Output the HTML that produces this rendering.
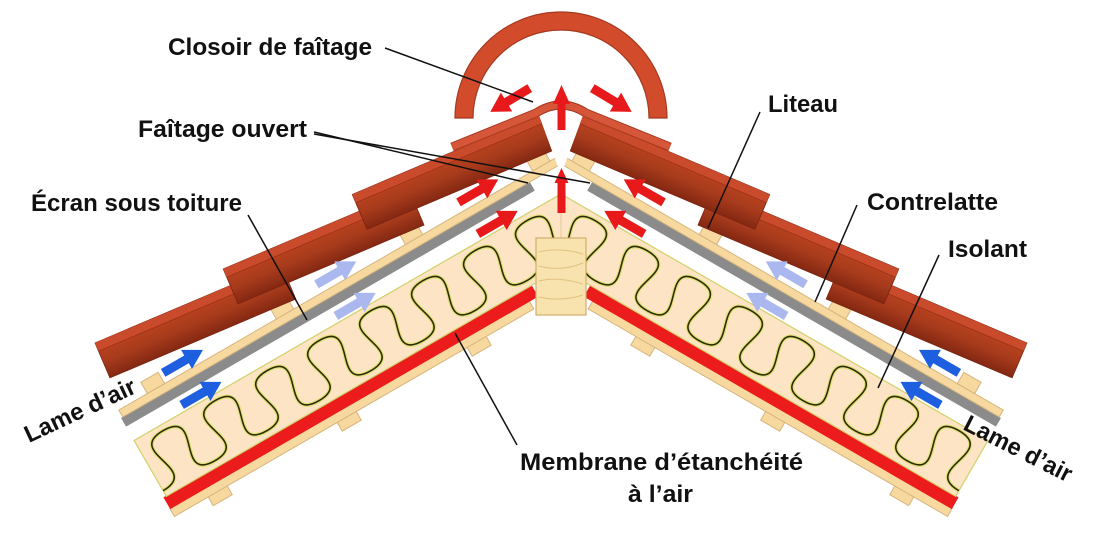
<!DOCTYPE html>
<html><head><meta charset="utf-8"><style>
html,body{margin:0;padding:0;background:#fff;}
svg{display:block;}
text{font-family:"Liberation Sans",Arial,sans-serif;font-weight:bold;fill:#111;}
</style></head><body>
<svg width="1100" height="545" viewBox="0 0 1100 545" xmlns="http://www.w3.org/2000/svg">
<defs>
  <linearGradient id="tb" x1="0" y1="0" x2="0" y2="1">
    <stop offset="0" stop-color="#c0451f"/>
    <stop offset="0.55" stop-color="#a73b1c"/>
    <stop offset="1" stop-color="#842812"/>
  </linearGradient>
  <clipPath id="cv" clipPathUnits="userSpaceOnUse">
    <polygon points="0,0 537,0 537,110 561,175 561,545 0,545"/>
  </clipPath>
  <clipPath id="ci" clipPathUnits="userSpaceOnUse">
    <polygon points="-590,168 -97,168 -134,232.5 -590,232.5"/>
  </clipPath>
  <path id="arr" d="M-23,-4.5 L4,-4.5 L4,-11 L23,0 L4,11 L4,4.5 L-23,4.5Z"/>
  <path id="wave" d="M-620,174 c45,0 -15,52 30,52 c45,0 -15,-52 30,-52 c45,0 -15,52 30,52 c45,0 -15,-52 30,-52 c45,0 -15,52 30,52 c45,0 -15,-52 30,-52 c45,0 -15,52 30,52 c45,0 -15,-52 30,-52 c45,0 -15,52 30,52 c45,0 -15,-52 30,-52 c45,0 -15,52 30,52 c45,0 -15,-52 30,-52 c45,0 -15,52 30,52 c45,0 -15,-52 30,-52 c45,0 -15,52 30,52 c45,0 -15,-52 30,-52 c45,0 -15,52 30,52 c45,0 -15,-52 30,-52 c45,0 -15,52 30,52 c45,0 -15,-52 30,-52 c45,0 -15,52 30,52 c45,0 -15,-52 30,-52"/>
  <g id="half">
    <g clip-path="url(#cv)">
      <g transform="translate(561,0) rotate(-30)">
        <!-- battens under panel -->
        <rect x="-554" y="251" width="22" height="13" fill="#f7d9a0" stroke="#d6b57c" stroke-width="1"/>
        <rect x="-405" y="251" width="22" height="13" fill="#f7d9a0" stroke="#d6b57c" stroke-width="1"/>
        <rect x="-255" y="251" width="22" height="13" fill="#f7d9a0" stroke="#d6b57c" stroke-width="1"/>
        <!-- panel -->
        <rect x="-593" y="245" width="415" height="9" fill="#f7d9a0" stroke="#d6b57c" stroke-width="1"/>
        <!-- red membrane -->
        <rect x="-593" y="232" width="425" height="13.5" fill="#ec1c1c"/>
        <!-- insulation -->
        <polygon points="-590,168 -97,168 -134,232.5 -590,232.5" fill="#fde4c4" stroke="#cfd168" stroke-width="1.2"/>
        <g clip-path="url(#ci)" fill="none">
          <use href="#wave" stroke="#e2e07a" stroke-width="4"/>
          <use href="#wave" stroke="#2c2c06" stroke-width="1.6"/>
        </g>
        <!-- ecran (gray) -->
        <rect x="-590" y="142" width="472" height="10" fill="#8b8b8b"/>
        <!-- contrelatte -->
        <rect x="-588" y="134" width="540" height="8" fill="#f7d9a0" stroke="#d6b57c" stroke-width="1"/>
        <!-- liteaux -->
        <rect x="-555" y="121" width="20" height="13" fill="#f7d9a0" stroke="#d6b57c" stroke-width="1"/>
        <rect x="-406" y="121" width="20" height="13" fill="#f7d9a0" stroke="#d6b57c" stroke-width="1"/>
        <rect x="-257" y="121" width="20" height="13" fill="#f7d9a0" stroke="#d6b57c" stroke-width="1"/>
        <rect x="-110" y="121" width="20" height="13" fill="#f7d9a0" stroke="#d6b57c" stroke-width="1"/>
        <!-- tiles -->
        <g transform="translate(-575,64) rotate(7)">
          <rect x="0" y="0" width="202" height="38" fill="url(#tb)" stroke="#7a2410" stroke-width="0.8"/>
          <rect x="0" y="0" width="202" height="9" fill="#c94b2b"/>
          <line x1="0" y1="9" x2="202" y2="9" stroke="#9a3018" stroke-width="0.8"/>
        </g>
        <g transform="translate(-427,64) rotate(7)">
          <rect x="0" y="0" width="202" height="38" fill="url(#tb)" stroke="#7a2410" stroke-width="0.8"/>
          <rect x="0" y="0" width="202" height="9" fill="#c94b2b"/>
          <line x1="0" y1="9" x2="202" y2="9" stroke="#9a3018" stroke-width="0.8"/>
        </g>
        <g transform="translate(-278,64) rotate(7)">
          <rect x="0" y="0" width="240" height="38" fill="url(#tb)" stroke="#7a2410" stroke-width="0.8"/>
          <rect x="0" y="0" width="240" height="9" fill="#c94b2b"/>
          <line x1="0" y1="9" x2="240" y2="9" stroke="#9a3018" stroke-width="0.8"/>
        </g>
        <!-- air arrows -->
        <use href="#arr" transform="translate(-508,124)" fill="#1e5fe0"/>
        <use href="#arr" transform="translate(-508,161)" fill="#1e5fe0"/>
        <use href="#arr" transform="translate(-331,124)" fill="#aab8ef"/>
        <use href="#arr" transform="translate(-330,161)" fill="#aab8ef"/>
        <use href="#arr" transform="translate(-167,124)" fill="#e8191a"/>
        <use href="#arr" transform="translate(-166,161)" fill="#e8191a"/>
      </g>
    </g>
  </g>
</defs>

<rect x="0" y="0" width="1100" height="545" fill="#fff"/>

<use href="#half"/>
<use href="#half" transform="translate(1122,0) scale(-1,1)"/>

<!-- insulation seam -->
<line x1="561" y1="194" x2="561" y2="238" stroke="#e6c99c" stroke-width="1"/>

<!-- ridge beam block -->
<rect x="536" y="238" width="50" height="77" fill="#f8e3ae" stroke="#cfae6c" stroke-width="1.2"/>
<g fill="none" stroke="#e0c27e" stroke-width="1">
  <path d="M539,252 q20,-5 44,2"/>
  <path d="M539,266 q22,6 44,-3"/>
  <path d="M539,281 q18,-5 44,3"/>
  <path d="M539,297 q22,5 44,-2"/>
</g>

<!-- ridge tile (faitiere) -->
<path d="M455,118 A106,106 0 0 1 667,118 L649,118 A88,88 0 0 0 473,118 Z" fill="#d24c2c" stroke="#a53a20" stroke-width="1.2"/>

<!-- closoir -->
<path d="M452,147 L536,113 Q561,97 586,113 L670,147" fill="none" stroke="#a8391f" stroke-width="9"/>
<path d="M452,147 L536,113 Q561,97 586,113 L670,147" fill="none" stroke="#d6563a" stroke-width="7"/>

<!-- central arrows -->
<path d="M557.5,213 L557.5,183 L554.5,183 L561.5,168 L568.5,183 L565.5,183 L565.5,213 Z" fill="#e8191a"/>
<path d="M557.5,130 L557.5,104 L553,104 L561.5,85 L570,104 L565.5,104 L565.5,130 Z" fill="#e8191a"/>
<use href="#arr" transform="translate(510,100) rotate(149)" fill="#e8191a"/>
<use href="#arr" transform="translate(612,100) rotate(31)" fill="#e8191a"/>

<!-- leader lines -->
<g stroke="#111" stroke-width="1.5" fill="none">
  <line x1="385" y1="48" x2="533" y2="102"/>
  <line x1="314" y1="132" x2="528" y2="183"/>
  <line x1="314" y1="134" x2="590" y2="183"/>
  <line x1="248" y1="215" x2="307" y2="320"/>
  <line x1="760" y1="112" x2="708" y2="228"/>
  <line x1="857" y1="205" x2="815" y2="302"/>
  <line x1="939" y1="255" x2="878" y2="388"/>
  <line x1="455" y1="333" x2="517" y2="445"/>
</g>

<!-- labels -->
<text x="168" y="55" font-size="24" textLength="204" lengthAdjust="spacingAndGlyphs">Closoir de faîtage</text>
<text x="138" y="137" font-size="24" textLength="169" lengthAdjust="spacingAndGlyphs">Faîtage ouvert</text>
<text x="31" y="211" font-size="24" textLength="211" lengthAdjust="spacingAndGlyphs">Écran sous toiture</text>
<text x="768" y="112" font-size="24" textLength="70" lengthAdjust="spacingAndGlyphs">Liteau</text>
<text x="867" y="210" font-size="24" textLength="131" lengthAdjust="spacingAndGlyphs">Contrelatte</text>
<text x="948" y="257" font-size="24" textLength="79" lengthAdjust="spacingAndGlyphs">Isolant</text>
<text x="520" y="470" font-size="24" textLength="283" lengthAdjust="spacingAndGlyphs">Membrane d’étanchéité</text>
<text x="628" y="502" font-size="24" textLength="65" lengthAdjust="spacingAndGlyphs">à l’air</text>
<text transform="translate(29,443) rotate(-25)" font-size="24" textLength="120" lengthAdjust="spacingAndGlyphs">Lame d’air</text>
<text transform="translate(962,429) rotate(27)" font-size="24" textLength="118" lengthAdjust="spacingAndGlyphs">Lame d’air</text>
</svg>
</body></html>
